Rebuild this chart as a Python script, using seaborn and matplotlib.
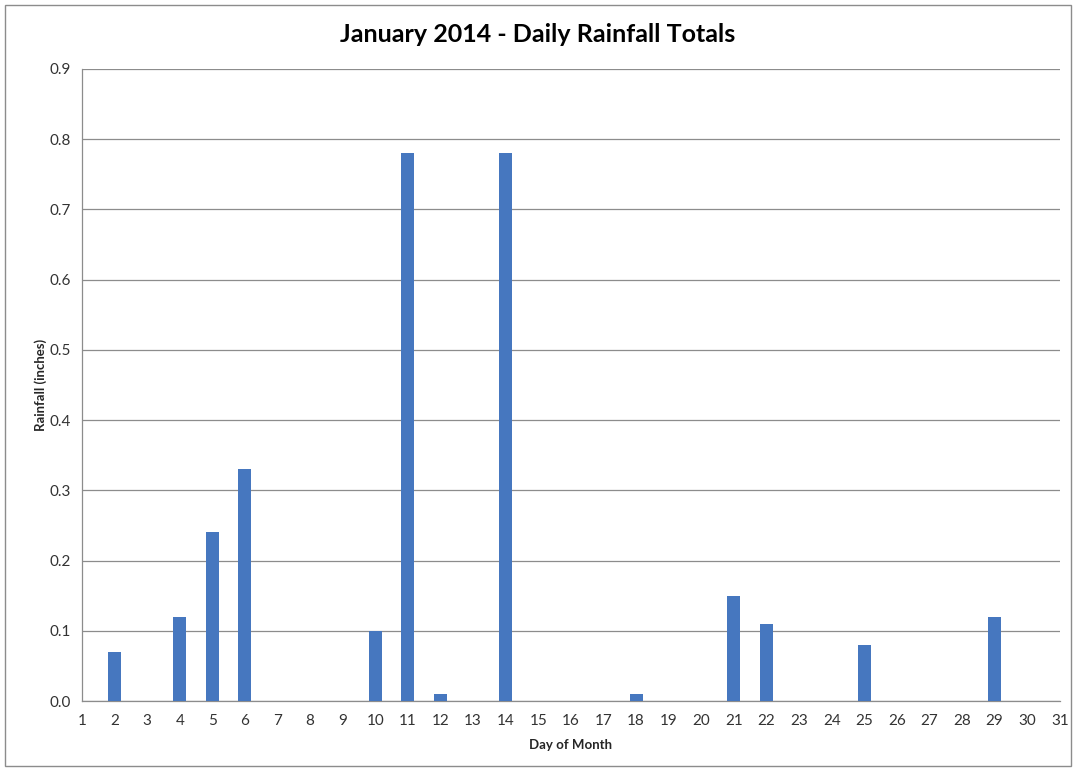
import matplotlib
matplotlib.use("Agg")
import matplotlib.pyplot as plt
import matplotlib.patches as mpatches
import seaborn as sns
import pandas as pd

days = list(range(1, 32))
rainfall = [0.00, 0.07, 0.00, 0.12, 0.24, 0.33, 0.00, 0.00, 0.00, 0.10,
            0.78, 0.01, 0.00, 0.78, 0.00, 0.00, 0.00, 0.01, 0.00, 0.00,
            0.15, 0.11, 0.00, 0.00, 0.08, 0.00, 0.00, 0.00, 0.12, 0.00,
            0.00]
y_ticks = [0.0, 0.1, 0.2, 0.3, 0.4, 0.5, 0.6, 0.7, 0.8, 0.9]

df = pd.DataFrame({"day": days, "rain": rainfall})

sns.set_style("white")
plt.rcParams["font.family"] = ["Lato", "DejaVu Sans"]

fig = plt.figure(figsize=(10.76, 7.69), dpi=100)
ax = fig.add_axes([0.0762, 0.0884, 0.9088, 0.8219])

sns.barplot(data=df, x="day", y="rain", native_scale=True, width=0.4,
            color="#4677BF", saturation=1, linewidth=0, ax=ax, zorder=3)

ax.set_xlim(1, 31)
ax.set_ylim(0, 0.9)
ax.set_xticks(days)
ax.set_xticklabels([str(d) for d in days])
ax.set_yticks(y_ticks)
ax.set_yticklabels([f"{v:.1f}" for v in y_ticks])

ax.yaxis.grid(True, color="#8c8c8c", linewidth=0.9, zorder=0)
ax.xaxis.grid(False)
for side in ["top", "right"]:
    ax.spines[side].set_visible(False)
for side in ["left", "bottom"]:
    ax.spines[side].set_color("#8c8c8c")
    ax.spines[side].set_linewidth(0.9)

ax.tick_params(axis="both", which="major", direction="out", length=5,
               width=0.9, color="#8c8c8c", labelsize=11, labelcolor="#333333")
ax.tick_params(axis="x", pad=4)
ax.tick_params(axis="y", pad=3)

ax.set_xlabel("Day of Month", fontsize=9.5, fontweight="bold", labelpad=8)
ax.set_ylabel("Rainfall (inches)", fontsize=9.5, fontweight="bold", labelpad=2)
fig.suptitle("January 2014 - Daily Rainfall Totals", fontsize=18,
             fontweight="bold", color="black", y=0.97)

border = mpatches.Rectangle((0.005, 0.004), 0.99, 0.99, transform=fig.transFigure,
                            fill=False, edgecolor="#8c8c8c", linewidth=1)
fig.patches.append(border)

fig.savefig("out.png", dpi=100)
